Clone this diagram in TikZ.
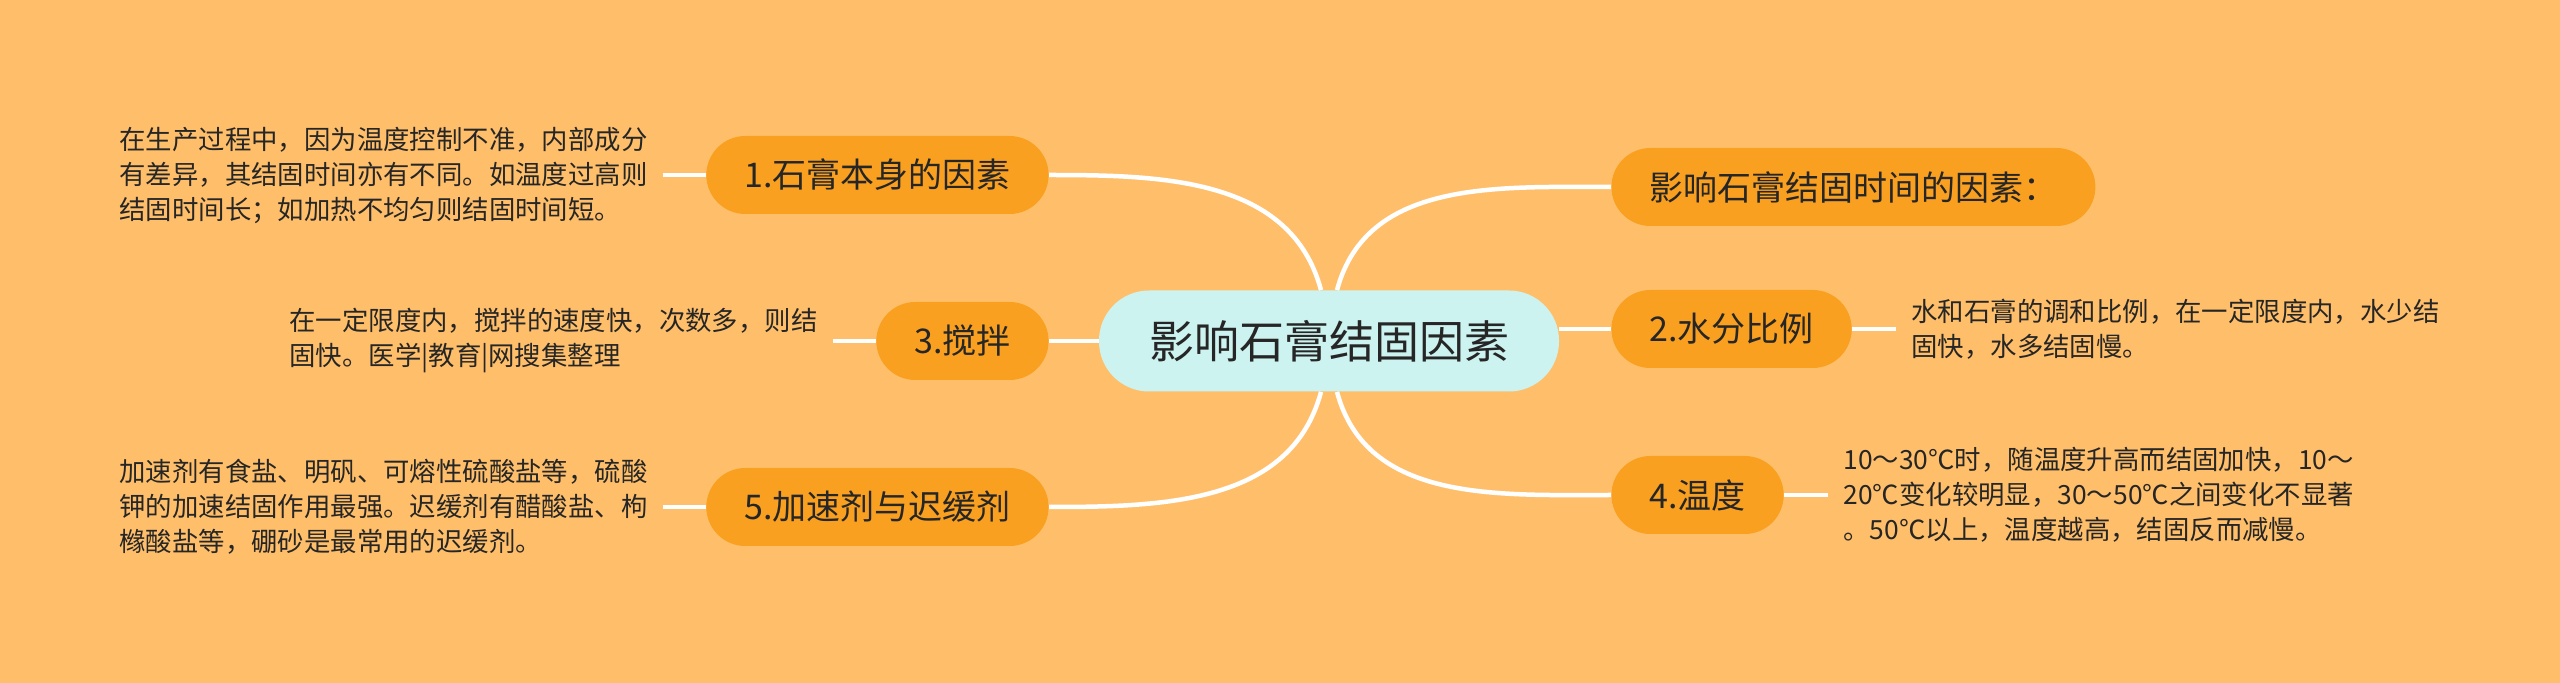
\documentclass[tikz,border=0pt]{standalone}
\usepackage{fontspec}
\setmainfont{Noto Sans CJK SC}
\usetikzlibrary{positioning}
\definecolor{bgorange}{RGB}{255,191,106}
\definecolor{branchfill}{RGB}{250,160,32}
\definecolor{mainfill}{RGB}{204,243,240}
\definecolor{inkgray}{RGB}{38,38,38}

\begin{document}
\begin{tikzpicture}[x=0.5pt,y=-0.5pt,
		mainnode/.style={rounded corners=25pt,fill=mainfill,text=inkgray,minimum height=50.5pt,minimum width=230pt,font=\fontsize{22.5}{27}\selectfont},
		branchnode/.style={rounded corners=19.5pt,fill=branchfill,text=inkgray,minimum height=39pt,inner xsep=19pt,font=\fontsize{17}{21}\selectfont},
		notetext/.style={align=left,text=inkgray,inner xsep=7.5pt,font=\fontsize{13.2}{17.5}\selectfont},
		link/.style={draw=white,line width=2.25pt}]
		\fill[bgorange] (0,0) rectangle (2560,683);
		\node[mainnode] (root) at (1329,341) {影响石膏结固因素};
		% left side
		\node[branchnode,anchor=east] (f1) at (1049,175) {1.石膏本身的因素};
		\node[branchnode,anchor=east] (f3) at (1049,341) {3.搅拌};
		\node[branchnode,anchor=east] (f5) at (1049,507) {5.加速剂与迟缓剂};
		% right side
		\node[branchnode,anchor=west] (f0) at (1611,187) {影响石膏结固时间的因素：};
		\node[branchnode,anchor=west] (f2) at (1611,329) {2.水分比例};
		\node[branchnode,anchor=west] (f4) at (1611,495) {4.温度};
		% notes
		\node[notetext,left=21.5pt of f1] (n1) {在生产过程中，因为温度控制不准，内部成分\\有差异，其结固时间亦有不同。如温度过高则\\结固时间长；如加热不均匀则结固时间短。};
		\node[notetext,left=21.5pt of f3] (n3) {在一定限度内，搅拌的速度快，次数多，则结\\固快。医学|教育|网搜集整理};
		\node[notetext,left=21.5pt of f5] (n5) {加速剂有食盐、明矾、可熔性硫酸盐等，硫酸\\钾的加速结固作用最强。迟缓剂有醋酸盐、枸\\橼酸盐等，硼砂是最常用的迟缓剂。};
		\node[notetext,right=22pt of f2] (n2) {水和石膏的调和比例，在一定限度内，水少结\\固快，水多结固慢。};
		\node[notetext,right=22pt of f4] (n4) {10～30℃时，随温度升高而结固加快，10～\\20℃变化较明显，30～50℃之间变化不显著\\。50℃以上，温度越高，结固反而减慢。};
		% links
		\draw[link] ([xshift=-4pt]root.north) to[out=105,in=0] (f1.east);
		\draw[link] (root.west) -- (f3.east);
		\draw[link] ([xshift=-4pt]root.south) to[out=-105,in=0] (f5.east);
		\draw[link] ([xshift=4pt]root.north) to[out=75,in=180] (f0.west);
		\draw[link] (f2.west -| root.east) -- (f2.west);
		\draw[link] ([xshift=4pt]root.south) to[out=-75,in=180] (f4.west);
		\draw[link] (f1.west) -- (n1.east);
		\draw[link] (f3.west) -- (n3.east);
		\draw[link] (f5.west) -- (n5.east);
		\draw[link] (f2.east) -- (n2.west);
		\draw[link] (f4.east) -- (n4.west);
	\end{tikzpicture}
\end{document}
